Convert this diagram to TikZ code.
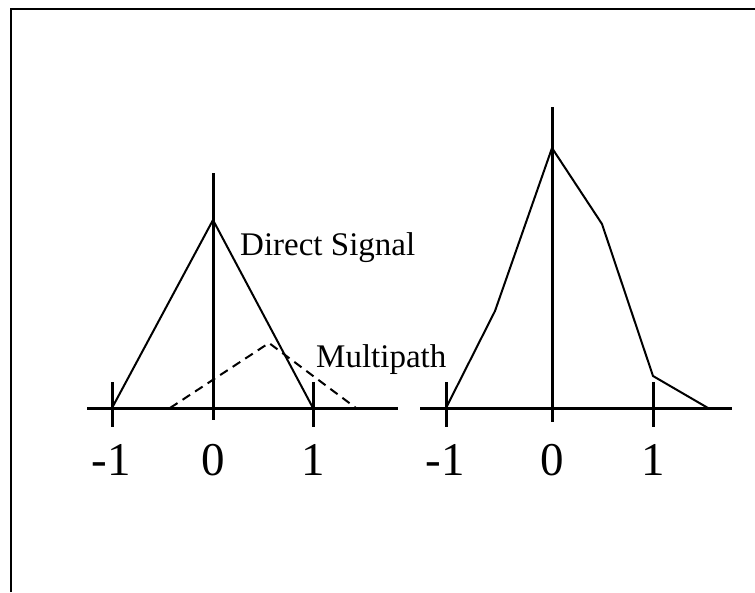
\documentclass[tikz,border=0pt]{standalone}
\usepackage{fontspec}
\setmainfont{Liberation Serif}
\usetikzlibrary{positioning}
\tikzset{
  frame/.style={line width=2pt},
  axisln/.style={line width=3pt},
  curve/.style={line width=2pt,line join=miter},
  mpath/.style={line width=2pt,dash pattern=on 9pt off 6pt},
  lbl/.style={font=\fontsize{33}{38}\selectfont,anchor=base west,inner sep=0pt},
  num/.style={font=\fontsize{47}{52}\selectfont,anchor=base,inner sep=0pt},
}

\begin{document}
\begin{tikzpicture}[x=1pt,y=-1pt]
\useasboundingbox (0,0) rectangle (755,592);
\draw[frame] (11,592) |- (755,9);
% left: direct signal and multipath
\coordinate (lo) at (213,408);
\coordinate (lm) at (112,408);
\coordinate (lp) at (313,408);
\coordinate (lpk) at (213,220);
\draw[axisln] (87,408) -- (398,408);
\draw[axisln] (213,173) -- (213,420);
\draw[axisln] (112,382) -- (112,427);
\draw[axisln] (313,382) -- (313,427);
\draw[curve] (lm) -- (lpk) -- (lp);
\coordinate (ma) at (170,408);
\coordinate (mpk) at (269,343);
\coordinate (mb) at (356,408);
\draw[mpath] (ma) -- (mpk) -- (mb);
\node[lbl] (direct) at (240,255) {Direct Signal};
\node[lbl] (multi) at (316,367) {Multipath};
\node[num] (lnm) at (111,475) {-1};
\node[num] (lnz) at (213,475) {0};
\node[num] (lnp) at (313,475) {1};
% right: sum of both
\coordinate (ro) at (552,408);
\coordinate (rm) at (446,408);
\coordinate (rp) at (653,408);
\draw[axisln] (420,408) -- (732,408);
\draw[axisln] (552,107) -- (552,422);
\draw[axisln] (446,382) -- (446,427);
\draw[axisln] (653,382) -- (653,427);
\coordinate (ra) at (495,311);
\coordinate (rpk) at (552,148);
\coordinate (rb) at (602,224);
\coordinate (rc) at (653,376);
\coordinate (rd) at (708,408);
\draw[curve] (rm) -- (ra) -- (rpk) -- (rb) -- (rc) -- (rd);
\node[num] (rnm) at (445,475) {-1};
\node[num] (rnz) at (552,475) {0};
\node[num] (rnp) at (653,475) {1};
\end{tikzpicture}
\end{document}
